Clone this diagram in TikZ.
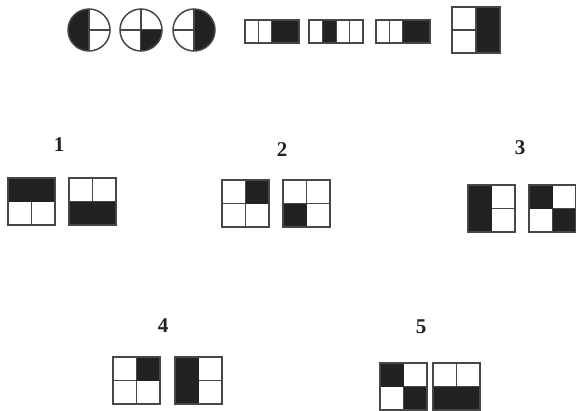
\documentclass[tikz,border=0pt]{standalone}
\usepackage{fontspec}
\setmainfont{Liberation Serif}
\definecolor{blk}{HTML}{222222}
\tikzset{
  gl/.style={draw=black!72, line width=1.5pt},
  bk/.style={fill=blk},
  num/.style={font=\fontsize{21}{25}\selectfont\bfseries, inner sep=0pt, text=blk}
}
% 2x2 square cells
\newcommand\cTL{\fill[bk] (0,0) rectangle (23.5,23.5);}
\newcommand\cTR{\fill[bk] (23.5,0) rectangle (47,23.5);}
\newcommand\cBL{\fill[bk] (0,23.5) rectangle (23.5,47);}
\newcommand\cBR{\fill[bk] (23.5,23.5) rectangle (47,47);}
\newcommand\sqbox[3]{%
  \begin{scope}[shift={(#1,#2)}]
    \draw[gl] (23.5,0) -- (23.5,47);
    \draw[gl] (0,23.5) -- (47,23.5);
    #3
    \draw[gl] (0,0) rectangle (47,47);
  \end{scope}}
% strip of 4 cells
\newcommand\strip[3]{%
  \begin{scope}[shift={(#1,#2)}]
    \foreach \k in {1,2,3} {\draw[gl] ({13.5*\k},0) -- ({13.5*\k},23);}
    #3
    \draw[gl] (0,0) rectangle (54,23);
  \end{scope}}
\begin{document}
\begin{tikzpicture}[x=1pt,y=-1pt]
\useasboundingbox (0,0) rectangle (576,410);

% circles
\begin{scope}[shift={(89,30)}]
  \fill[bk] (0,-21) arc[start angle=270,end angle=90,radius=21] -- cycle;
  \draw[gl] (0,-21) -- (0,21);
  \draw[gl] (0,0) -- (21,0);
  \draw[gl] (0,0) circle[radius=21];
\end{scope}
\begin{scope}[shift={(141,30)}]
  \draw[gl] (0,-21) -- (0,21);
  \draw[gl] (-21,0) -- (21,0);
  \fill[bk] (0,0) -- (21,0) arc[start angle=0,end angle=90,radius=21] -- cycle;
  \draw[gl] (0,0) circle[radius=21];
\end{scope}
\begin{scope}[shift={(194,30)}]
  \fill[bk] (0,-21) arc[start angle=-90,end angle=90,radius=21] -- cycle;
  \draw[gl] (0,-21) -- (0,21);
  \draw[gl] (-21,0) -- (0,0);
  \draw[gl] (0,0) circle[radius=21];
\end{scope}

% strips
\strip{245}{20}{\fill[bk] (27,0) rectangle (54,23);}
\strip{309}{20}{\fill[bk] (13.5,0) rectangle (27,23);}
\strip{376}{20}{\fill[bk] (27,0) rectangle (54,23);}

% tall box
\begin{scope}[shift={(452,7)}]
  \draw[gl] (0,23) -- (24,23);
  \fill[bk] (24,0) rectangle (48,46);
  \draw[gl] (24,0) -- (24,46);
  \draw[gl] (0,0) rectangle (48,46);
\end{scope}

% numbers
\node[num] (n1) at (59,145) {1};
\node[num] (n2) at (282,150) {2};
\node[num] (n3) at (520,148) {3};
\node[num] (n4) at (163,326) {4};
\node[num] (n5) at (421,327) {5};

% group 1
\sqbox{8}{178}{\cTL\cTR}
\sqbox{69}{178}{\cBL\cBR}
% group 2
\sqbox{222}{180}{\cTR}
\sqbox{283}{180}{\cBL}
% group 3
\sqbox{468}{185}{\cTL\cBL}
\sqbox{529}{185}{\cTL\cBR}
% group 4
\sqbox{113}{357}{\cTR}
\sqbox{175}{357}{\cTL\cBL}
% group 5
\sqbox{380}{363}{\cTL\cBR}
\sqbox{433}{363}{\cBL\cBR}
\end{tikzpicture}
\end{document}
